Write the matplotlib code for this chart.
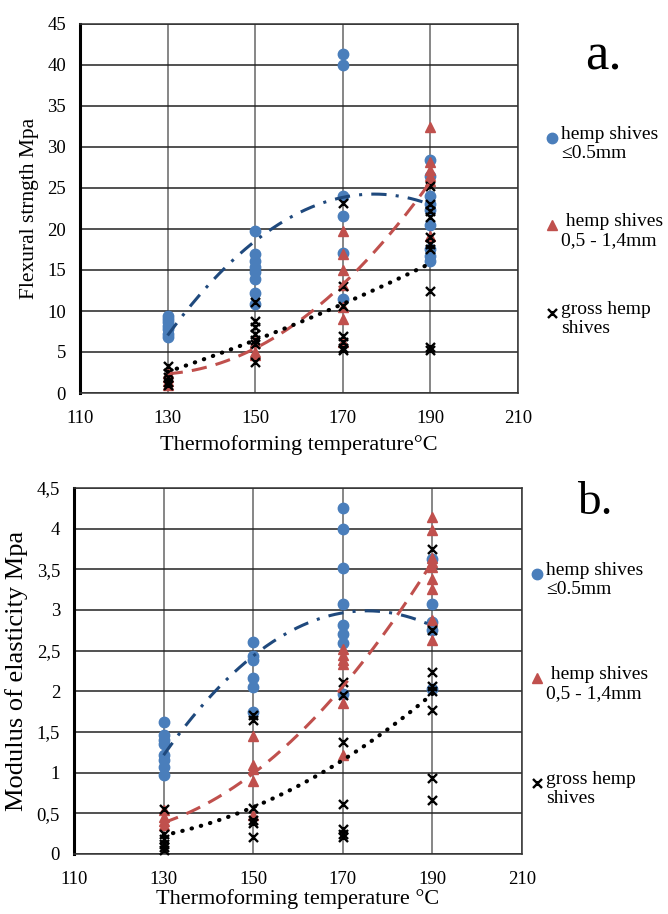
import numpy as np
import matplotlib
matplotlib.use("Agg")
import matplotlib.pyplot as plt
from matplotlib.path import Path
from matplotlib.lines import Line2D

plt.rcParams['font.family'] = ['Liberation Serif', 'DejaVu Serif']

temps = [130, 150, 170, 190]

# ---- panel a: flexural strength ----
a_fine = {130: [9.4, 9.0, 8.6, 8.2, 7.8, 7.2, 6.8],
          150: [19.8, 17.0, 16.1, 15.4, 14.7, 13.9, 12.2, 10.9],
          170: [41.4, 40.0, 24.0, 21.6, 17.1, 11.5],
          190: [28.4, 26.5, 24.0, 23.0, 22.3, 20.5, 17.5, 16.7, 16.1]}
a_mid = {130: [2.5, 2.0, 1.5, 1.0],
         150: [6.2, 5.0, 4.6],
         170: [19.7, 17.0, 15.0, 13.2, 10.5, 9.0, 6.2],
         190: [32.4, 28.2, 27.2, 26.5, 25.8, 19.2]}
a_gross = {130: [3.3, 2.4, 2.0, 1.4, 1.0],
           150: [11.1, 8.8, 8.0, 7.2, 6.5, 6.0, 3.8],
           170: [23.2, 13.1, 10.6, 7.0, 6.2, 5.5, 5.2],
           190: [25.3, 23.0, 22.2, 21.5, 19.0, 18.2, 17.5, 12.4, 5.6, 5.3]}
a_trend_fine = [7.0, 18.6, 23.8, 23.0]
a_trend_mid = [2.3, 5.6, 13.1, 25.8]
a_trend_gross = [2.6, 6.4, 10.9, 15.8]
a_yticks = [0, 5, 10, 15, 20, 25, 30, 35, 40, 45]
a_yticklabels = ["0", "5", "10", "15", "20", "25", "30", "35", "40", "45"]

# ---- panel b: modulus of elasticity ----
b_fine = {130: [1.62, 1.46, 1.40, 1.35, 1.22, 1.15, 1.07, 0.97],
          150: [2.61, 2.44, 2.38, 2.16, 2.05, 1.75],
          170: [4.25, 4.0, 3.52, 3.07, 2.81, 2.71, 2.6, 1.97],
          190: [3.63, 3.07, 2.85, 2.75, 2.03]}
b_mid = {130: [0.54, 0.46, 0.40, 0.36],
         150: [1.45, 1.10, 1.05, 0.90, 0.48],
         170: [2.52, 2.45, 2.38, 2.34, 1.86, 1.22],
         190: [4.14, 3.98, 3.64, 3.59, 3.53, 3.38, 3.26, 2.88, 2.63]}
b_gross = {130: [0.55, 0.25, 0.18, 0.12, 0.08, 0.05],
           150: [1.71, 1.65, 0.56, 0.42, 0.38, 0.21],
           170: [2.12, 1.95, 1.38, 0.61, 0.31, 0.25, 0.21],
           190: [3.75, 2.75, 2.24, 2.06, 2.01, 1.77, 0.93, 0.66]}
b_trend_fine = [1.22, 2.42, 2.98, 2.80]
b_trend_mid = [0.38, 1.01, 2.04, 3.60]
b_trend_gross = [0.23, 0.58, 1.15, 1.97]
b_yticks = [0, 0.5, 1, 1.5, 2, 2.5, 3, 3.5, 4, 4.5]
b_yticklabels = ["0", "0,5", "1", "1,5", "2", "2,5", "3", "3,5", "4", "4,5"]

xticks = [110, 130, 150, 170, 190, 210]
legend_labels = ["hemp shives\n\u22640.5mm", " hemp shives\n0,5 - 1,4mm", "gross hemp\nshives"]

BLUE = '#4A7EBB'
RED = '#C0504D'
DBLUE = '#1F497D'

star = Path([(-1, -1), (1, 1), (-1, 1), (1, -1), (0, -0.55), (0, 0.55)],
            [Path.MOVETO, Path.LINETO, Path.MOVETO, Path.LINETO, Path.MOVETO, Path.LINETO])

fig = plt.figure(figsize=(6.68, 9.14), dpi=100)
W, H = 668, 914


def ax_rect(l, r, t, b):
    return [l / W, 1 - b / H, (r - l) / W, (b - t) / H]


def draw_panel(ax, fine, mid, gross, tf, tm, tg, yticks, yticklabels, ylabel, xlabel, ylsize, xlsize, xlpad):
    xs_fit = np.linspace(130, 190, 200)
    for t in temps:
        ax.plot([t] * len(fine[t]), fine[t], 'o', color=BLUE, ms=7.5, mec=BLUE, zorder=4, clip_on=False)
    for t in temps:
        ax.plot([t] * len(mid[t]), mid[t], '^', color=RED, ms=7, mec=RED, zorder=4, clip_on=False)
    for t in temps:
        ax.plot([t] * len(gross[t]), gross[t], marker=star, ls='none', color='black',
                ms=6.5, mew=1.7, zorder=5, clip_on=False)
    # trend lines (quadratic through values read at each temperature)
    for vals, col, ls, lw in [(tf, DBLUE, (0, (5, 3, 1, 3)), 2.2),
                              (tm, RED, (0, (5, 3)), 2.2),
                              (tg, 'black', (0, (0.1, 2.2)), 3.0)]:
        c = np.polyfit(temps, vals, 2)
        ax.plot(xs_fit, np.polyval(c, xs_fit), color=col, ls=ls, lw=lw,
                dash_capstyle='round' if col == 'black' else 'butt', zorder=6)
    ax.set_xlim(110, 210)
    ax.set_ylim(yticks[0], yticks[-1])
    ax.set_xticks(xticks)
    ax.set_xticklabels([str(x) for x in xticks])
    ax.set_yticks(yticks)
    ax.set_yticklabels(yticklabels)
    ax.tick_params(length=0, labelsize=13.5, colors='black')
    ax.tick_params(axis='x', pad=12)
    ax.tick_params(axis='y', pad=10)
    ax.yaxis.grid(True, color='#222222', lw=1.1)
    ax.xaxis.grid(True, color='#666666', lw=1.1)
    ax.set_axisbelow(True)
    for s in ['top', 'right', 'bottom']:
        ax.spines[s].set_color('#333333')
        ax.spines[s].set_linewidth(1.1)
    ax.spines['left'].set_linewidth(2.2)
    ax.spines['left'].set_color('black')
    ax.set_ylabel(ylabel, fontsize=ylsize, labelpad=6)
    ax.set_xlabel(xlabel, fontsize=xlsize, labelpad=xlpad)


ax1 = fig.add_axes(ax_rect(80, 518, 24, 393))
draw_panel(ax1, a_fine, a_mid, a_gross, a_trend_fine, a_trend_mid, a_trend_gross,
           a_yticks, a_yticklabels, "Flexural strngth Mpa", "Thermoforming temperature\u00b0C", 15.5, 16, 6)

ax2 = fig.add_axes(ax_rect(74, 522, 488, 854))
draw_panel(ax2, b_fine, b_mid, b_gross, b_trend_fine, b_trend_mid, b_trend_gross,
           b_yticks, b_yticklabels, "Modulus of elasticity Mpa", "Thermoforming temperature \u00b0C", 19, 16, 1)


def legend(entries_y, mx, tx, size):
    styles = [dict(marker='o', color=BLUE, ms=7.5, mec=BLUE),
              dict(marker='^', color=RED, ms=7, mec=RED),
              dict(marker=star, color='black', ms=6.5, mew=1.7)]
    for y, st, lab in zip(entries_y, styles, legend_labels):
        fig.add_artist(Line2D([mx / W], [1 - y / H], ls='none', transform=fig.transFigure, **st))
        fig.text(tx / W, 1 - (y - 12) / H, lab, fontsize=size, va='top', ha='left', linespacing=1.15)


legend([138, 225, 313], 552, 561, 14)
legend([574, 678, 783], 537, 546, 14)

fig.text(603 / W, 1 - 57 / H, "a.", fontsize=38, ha='center', va='center')
fig.text(595 / W, 1 - 503 / H, "b.", fontsize=34, ha='center', va='center')

fig.savefig("out.png", dpi=100)
